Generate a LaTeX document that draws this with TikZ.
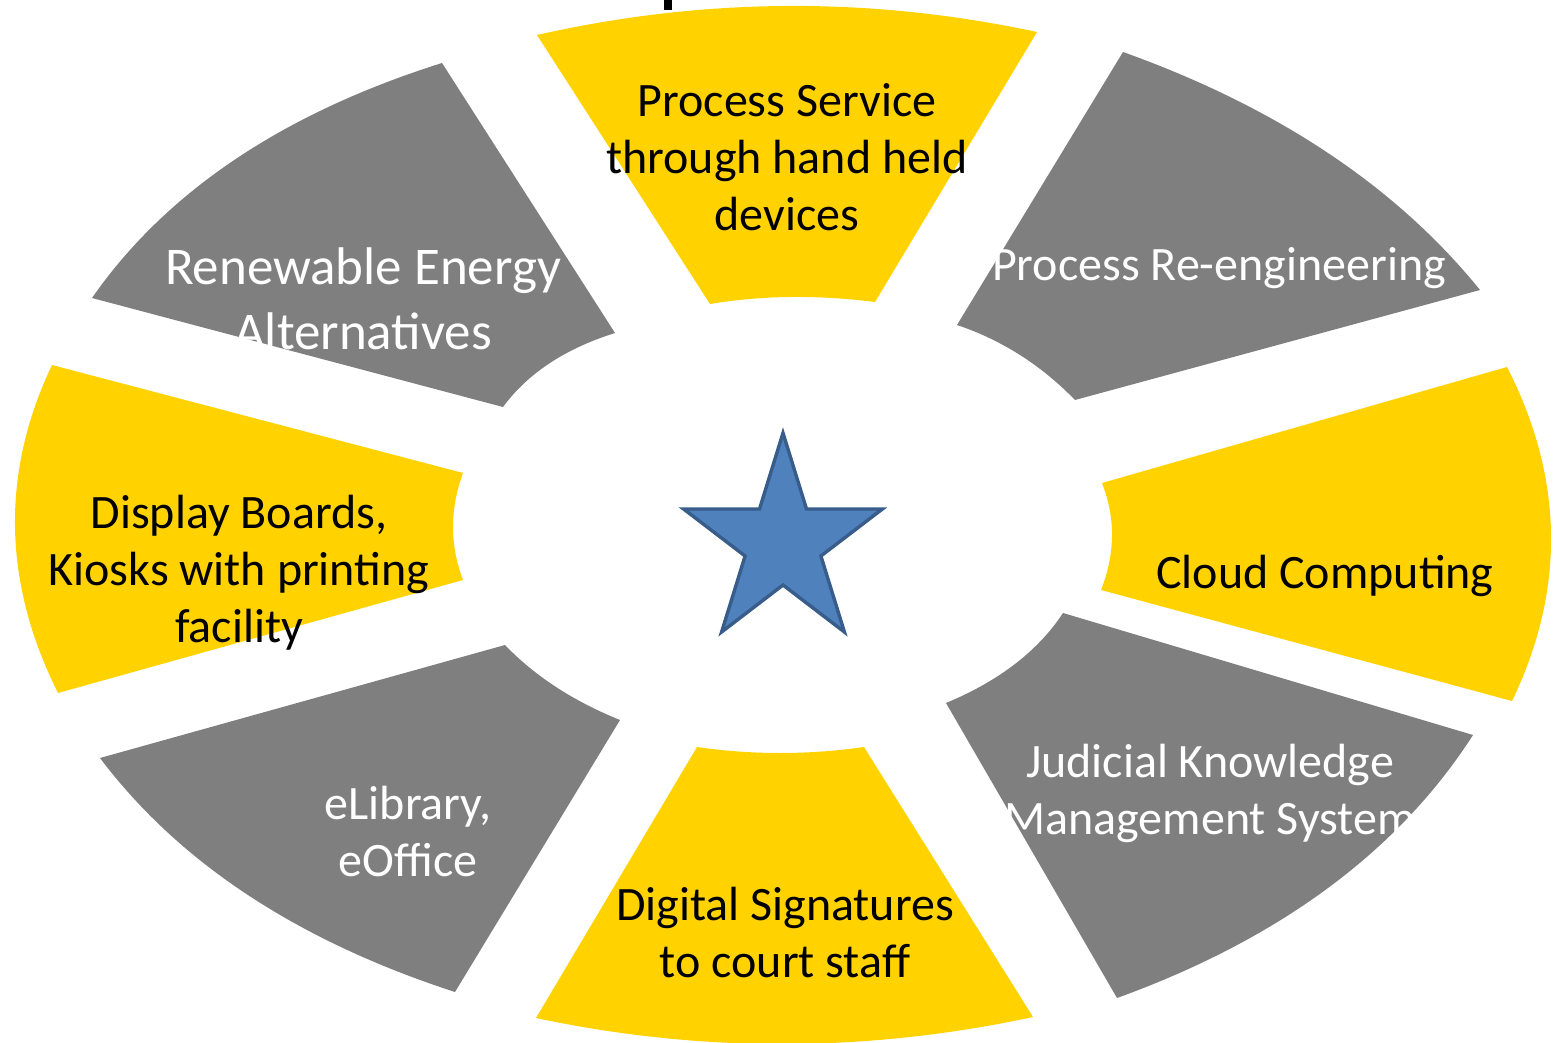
\documentclass[tikz,border=0pt]{standalone}
\usepackage{fontspec}
\setmainfont{Carlito}
\definecolor{segyellow}{HTML}{FFD200}
\definecolor{seggray}{HTML}{7F7F7F}
\definecolor{starfill}{HTML}{4F81BD}
\definecolor{starline}{HTML}{385D8A}
\tikzset{
  segyel/.style={fill=segyellow},
  seggry/.style={fill=seggray},
  lbldark/.style={text=black, align=center, inner sep=0pt, font=\fontsize{24}{28.5}\selectfont},
  lbllight/.style={text=white, align=center, inner sep=0pt, font=\fontsize{24}{28.5}\selectfont},
}
\begin{document}
\begin{tikzpicture}[x=0.5pt,y=0.5pt,yscale=-1]
\useasboundingbox (0,0) rectangle (1558,1043);

%Shape: cut title stroke
\fill (664,0) rectangle (672,10);

%Shape: Segment top
\fill [segyel] (537,35) .. controls (703.7,-2.7) and (870.3,-3.7) .. (1037,32) -- (875,302) .. controls (816.7,294.7) and (761.7,295.3) .. (710,304) -- cycle;
%Shape: Segment top right
\fill [seggry] (1123,52) .. controls (1277.3,107.3) and (1396.3,186.7) .. (1480,290) -- (1075,400) .. controls (1041,365) and (1001.7,340) .. (957,325) -- cycle;
%Shape: Segment right
\fill [segyel] (1507,367) .. controls (1564,478.3) and (1565.7,589.7) .. (1512,701) -- (1101,590) .. controls (1115.3,553.7) and (1115.7,518) .. (1102,483) -- cycle;
%Shape: Segment bottom right
\fill [seggry] (1473,735) .. controls (1398.3,851.3) and (1279.7,939) .. (1117,998) -- (946,703) .. controls (999,681) and (1038,651) .. (1063,613) -- cycle;
%Shape: Segment bottom
\fill [segyel] (697,747) .. controls (752,755) and (807.7,755) .. (864,747) -- (1033,1017) .. controls (866.7,1052.7) and (701,1053) .. (536,1018) -- cycle;
%Shape: Segment bottom left
\fill [seggry] (100,758) -- (505,645) .. controls (534.7,676) and (573,701) .. (620,720) -- (455,992) .. controls (297.3,940.7) and (179,862.7) .. (100,758) -- cycle;
%Shape: Segment left
\fill [segyel] (52,365) -- (463,473) .. controls (449.7,509.3) and (449.7,545) .. (463,580) -- (58,693) .. controls (2.7,582.3) and (0.7,473) .. (52,365) -- cycle;
%Shape: Segment top left
\fill [seggry] (92,298) .. controls (166,191.7) and (282.7,113.3) .. (442,63) -- (615,333) .. controls (565,348.7) and (527.7,373.4) .. (503,407) -- cycle;

%Shape: Star
\draw [starline, fill=starfill, line width=1.7pt] (783,433) -- (806.5,509) -- (882.4,509) -- (820.9,556) -- (844.4,632) -- (783,585) -- (721.6,632) -- (745.1,556) -- (683.6,509) -- (759.5,509) -- cycle;

% Text Node
\node [lbldark] (serv) at (787,157) {Process Service\\through hand held\\devices};
% Text Node
\node [lbllight] (bpr) at (1219,268) {Process Re-engineering};
% Text Node
\node [lbldark] (cloud) at (1325,576) {Cloud Computing};
% Text Node
\node [lbllight] (jkms) at (1210,793) {Judicial Knowledge\\Management System};
% Text Node
\node [lbldark] (dsig) at (785,933) {Digital Signatures\\to court staff};
% Text Node
\node [lbllight] (elib) at (408,831) {eLibrary,\\eOffice};
% Text Node
\node [lbldark] (kiosk) at (239,573) {Display Boards,\\Kiosks with printing\\facility};
% Text Node
\node [lbllight, font=\fontsize{26.5}{32.5}\selectfont] (renew) at (363,299) {Renewable Energy\\Alternatives};

\end{tikzpicture}
\end{document}
